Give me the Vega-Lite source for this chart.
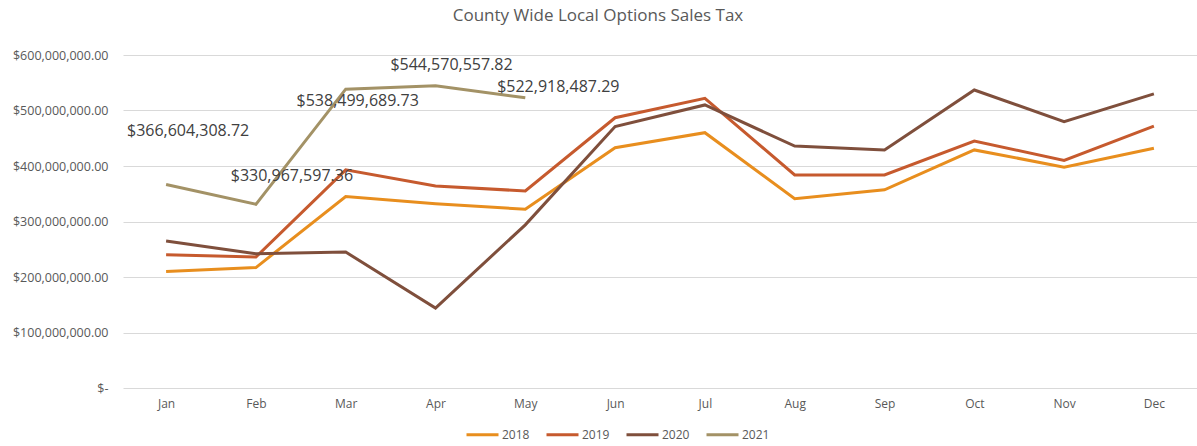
{
  "$schema": "https://vega.github.io/schema/vega-lite/v6.json",
  "width": 1074,
  "height": 333,
  "autosize": {"type": "none"},
  "padding": {"left": 123, "top": 55, "right": 0, "bottom": 58},
  "background": "white",
  "title": {"text": "County Wide Local Options Sales Tax", "font": "Open Sans", "fontSize": 17, "fontWeight": "normal", "color": "#595959", "offset": 24, "anchor": "middle", "dx": -62},
  "config": {"view": {"stroke": null}, "font": "Open Sans"},
  "data": {"values": [
    {"month": "Jan", "year": "2018", "value": 210000000},
    {"month": "Feb", "year": "2018", "value": 217000000},
    {"month": "Mar", "year": "2018", "value": 345000000},
    {"month": "Apr", "year": "2018", "value": 332000000},
    {"month": "May", "year": "2018", "value": 322000000},
    {"month": "Jun", "year": "2018", "value": 433000000},
    {"month": "Jul", "year": "2018", "value": 460000000},
    {"month": "Aug", "year": "2018", "value": 341000000},
    {"month": "Sep", "year": "2018", "value": 357000000},
    {"month": "Oct", "year": "2018", "value": 429000000},
    {"month": "Nov", "year": "2018", "value": 398000000},
    {"month": "Dec", "year": "2018", "value": 432000000},
    {"month": "Jan", "year": "2019", "value": 240000000},
    {"month": "Feb", "year": "2019", "value": 236000000},
    {"month": "Mar", "year": "2019", "value": 393000000},
    {"month": "Apr", "year": "2019", "value": 364000000},
    {"month": "May", "year": "2019", "value": 355000000},
    {"month": "Jun", "year": "2019", "value": 487000000},
    {"month": "Jul", "year": "2019", "value": 522000000},
    {"month": "Aug", "year": "2019", "value": 384000000},
    {"month": "Sep", "year": "2019", "value": 384000000},
    {"month": "Oct", "year": "2019", "value": 445000000},
    {"month": "Nov", "year": "2019", "value": 410000000},
    {"month": "Dec", "year": "2019", "value": 472000000},
    {"month": "Jan", "year": "2020", "value": 265000000},
    {"month": "Feb", "year": "2020", "value": 242000000},
    {"month": "Mar", "year": "2020", "value": 245000000},
    {"month": "Apr", "year": "2020", "value": 144000000},
    {"month": "May", "year": "2020", "value": 294000000},
    {"month": "Jun", "year": "2020", "value": 471000000},
    {"month": "Jul", "year": "2020", "value": 510000000},
    {"month": "Aug", "year": "2020", "value": 436000000},
    {"month": "Sep", "year": "2020", "value": 429000000},
    {"month": "Oct", "year": "2020", "value": 537000000},
    {"month": "Nov", "year": "2020", "value": 480000000},
    {"month": "Dec", "year": "2020", "value": 530000000},
    {"month": "Jan", "year": "2021", "value": 366604308.72},
    {"month": "Feb", "year": "2021", "value": 330967597.36},
    {"month": "Mar", "year": "2021", "value": 538499689.73},
    {"month": "Apr", "year": "2021", "value": 544570557.82},
    {"month": "May", "year": "2021", "value": 522918487.29}
  ]},
  "encoding": {
    "x": {"field": "month", "type": "ordinal", "sort": ["Jan","Feb","Mar","Apr","May","Jun","Jul","Aug","Sep","Oct","Nov","Dec"],
      "scale": {"type": "point", "padding": 0.48},
      "axis": {"title": null, "domain": false, "ticks": false, "labelAngle": 0, "labelPadding": 10, "labelFont": "Open Sans", "labelFontSize": 12, "labelColor": "#595959"}},
    "y": {"field": "value", "type": "quantitative",
      "scale": {"domain": [0, 600000000], "nice": false},
      "axis": {"title": null, "domain": false, "ticks": false, "values": [0,100000000,200000000,300000000,400000000,500000000,600000000],
        "labelExpr": "datum.value == 0 ? '$-' : '$' + format(datum.value, ',.2f')",
        "labelPadding": 15, "labelFont": "Open Sans", "labelFontSize": 12.5, "labelColor": "#595959",
        "gridColor": "#D9D9D9", "gridWidth": 1}}
  },
  "layer": [
    {
      "mark": {"type": "line", "strokeWidth": 3, "strokeJoin": "miter"},
      "encoding": {
        "color": {"field": "year", "type": "nominal",
          "scale": {"domain": ["2018","2019","2020","2021"], "range": ["#E88E1E","#C65A2E","#7F4F3C","#A39266"]},
          "legend": {"title": null, "orient": "none", "direction": "horizontal", "legendX": 342, "legendY": 362,
            "symbolType": "stroke", "symbolSize": 1024, "symbolStrokeWidth": 3, "labelFont": "Open Sans", "labelFontSize": 12, "labelColor": "#595959", "columnPadding": 10, "labelOffset": 2}}
      }
    },
    {
      "transform": [{"filter": "datum.year == '2021' && datum.month == 'Jan'"}],
      "mark": {"type": "text", "font": "Open Sans", "fontSize": 16, "color": "#404040", "align": "center", "baseline": "middle", "dx": 22, "dy": -54},
      "encoding": {"text": {"field": "value", "type": "quantitative", "format": "$,.2f"}}
    },
    {
      "transform": [{"filter": "datum.year == '2021' && datum.month == 'Feb'"}],
      "mark": {"type": "text", "font": "Open Sans", "fontSize": 16, "color": "#404040", "align": "center", "baseline": "middle", "dx": 36, "dy": -28},
      "encoding": {"text": {"field": "value", "type": "quantitative", "format": "$,.2f"}}
    },
    {
      "transform": [{"filter": "datum.year == '2021' && datum.month == 'Mar'"}],
      "mark": {"type": "text", "font": "Open Sans", "fontSize": 16, "color": "#404040", "align": "center", "baseline": "middle", "dx": 12, "dy": 12},
      "encoding": {"text": {"field": "value", "type": "quantitative", "format": "$,.2f"}}
    },
    {
      "transform": [{"filter": "datum.year == '2021' && datum.month == 'Apr'"}],
      "mark": {"type": "text", "font": "Open Sans", "fontSize": 16, "color": "#404040", "align": "center", "baseline": "middle", "dx": 16, "dy": -21},
      "encoding": {"text": {"field": "value", "type": "quantitative", "format": "$,.2f"}}
    },
    {
      "transform": [{"filter": "datum.year == '2021' && datum.month == 'May'"}],
      "mark": {"type": "text", "font": "Open Sans", "fontSize": 16, "color": "#404040", "align": "center", "baseline": "middle", "dx": 33, "dy": -11},
      "encoding": {"text": {"field": "value", "type": "quantitative", "format": "$,.2f"}}
    }
  ]
}
